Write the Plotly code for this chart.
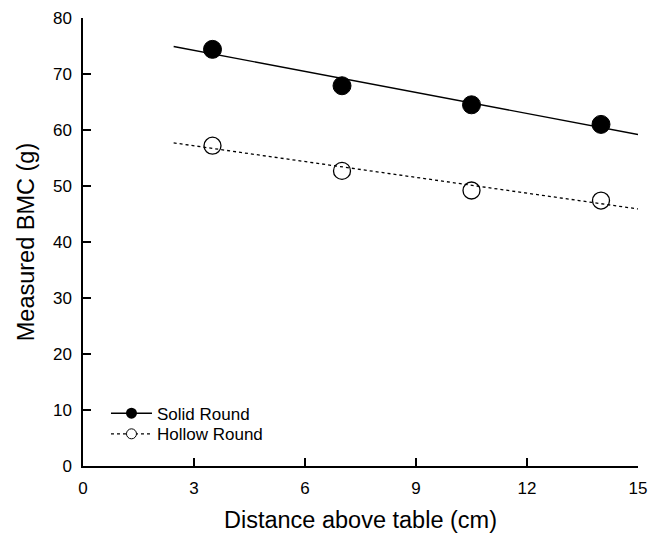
import plotly.graph_objects as go

distance = [3.5, 7, 10.5, 14]
solid_bmc = [74.4, 67.9, 64.5, 61.0]
hollow_bmc = [57.2, 52.7, 49.2, 47.4]

fit_x = [2.45, 15]
solid_fit = [74.9, 59.2]
hollow_fit = [57.7, 45.9]

x_ticks = [0, 3, 6, 9, 12, 15]
y_ticks = [0, 10, 20, 30, 40, 50, 60, 70, 80]

FONT = "Liberation Sans, Arial, sans-serif"

fig = go.Figure()

fig.add_trace(go.Scatter(x=fit_x, y=solid_fit, mode="lines",
                         line=dict(color="black", width=1.4), showlegend=False, hoverinfo="skip"))
fig.add_trace(go.Scatter(x=fit_x, y=hollow_fit, mode="lines",
                         line=dict(color="black", width=1.3, dash="dot"), showlegend=False, hoverinfo="skip"))
fig.add_trace(go.Scatter(x=distance, y=solid_bmc, mode="markers",
                         marker=dict(symbol="circle", size=18, color="black",
                                     line=dict(color="black", width=1)),
                         showlegend=False, cliponaxis=False))
fig.add_trace(go.Scatter(x=distance, y=hollow_bmc, mode="markers",
                         marker=dict(symbol="circle-open", size=17, color="black",
                                     line=dict(color="black", width=1.3)),
                         showlegend=False, cliponaxis=False))

# legend entries
fig.add_trace(go.Scatter(x=[None], y=[None], mode="lines+markers", name="Solid Round",
                         legend="legend",
                         line=dict(color="black", width=1.4),
                         marker=dict(symbol="circle", size=11, color="black")))
fig.add_trace(go.Scatter(x=[None], y=[None], mode="lines+markers", name="Hollow Round",
                         legend="legend2",
                         line=dict(color="black", width=1.3, dash="dot"),
                         marker=dict(symbol="circle", size=10, color="white",
                                     line=dict(color="black", width=1))))

leg_common = dict(xanchor="left", yanchor="top", bgcolor="rgba(0,0,0,0)",
                  font=dict(size=17, family=FONT), itemwidth=41)

fig.update_layout(
    width=651, height=533,
    margin=dict(l=83, r=13, t=18, b=67, pad=0),
    paper_bgcolor="white", plot_bgcolor="white",
    font=dict(family=FONT, color="black", size=17),
    showlegend=True,
    legend=dict(x=0.0414, y=0.157, **leg_common),
    legend2=dict(x=0.0414, y=0.111, **leg_common),
    xaxis=dict(range=[0, 15], tickvals=x_ticks, ticks="inside", ticklen=8,
               tickwidth=1.5, tickcolor="black", showline=True, linecolor="black",
               linewidth=1.5, showgrid=False, zeroline=False, mirror=False,
               tickfont=dict(size=17), ticklabelstandoff=6, automargin=False,
               title=dict(text="Distance above table (cm)", font=dict(size=23.5), standoff=15)),
    yaxis=dict(range=[0, 80], tickvals=y_ticks, ticks="inside", ticklen=8,
               tickwidth=1.5, tickcolor="black", showline=True, linecolor="black",
               linewidth=1.5, showgrid=False, zeroline=False, mirror=False,
               tickfont=dict(size=17), ticklabelstandoff=6, automargin=False,
               title=dict(text="Measured BMC (g)", font=dict(size=23.5), standoff=12)),
)

fig.write_html("out.html", config={"displayModeBar": False},
               post_script="document.body.style.margin='0';document.body.style.overflow='hidden';")
